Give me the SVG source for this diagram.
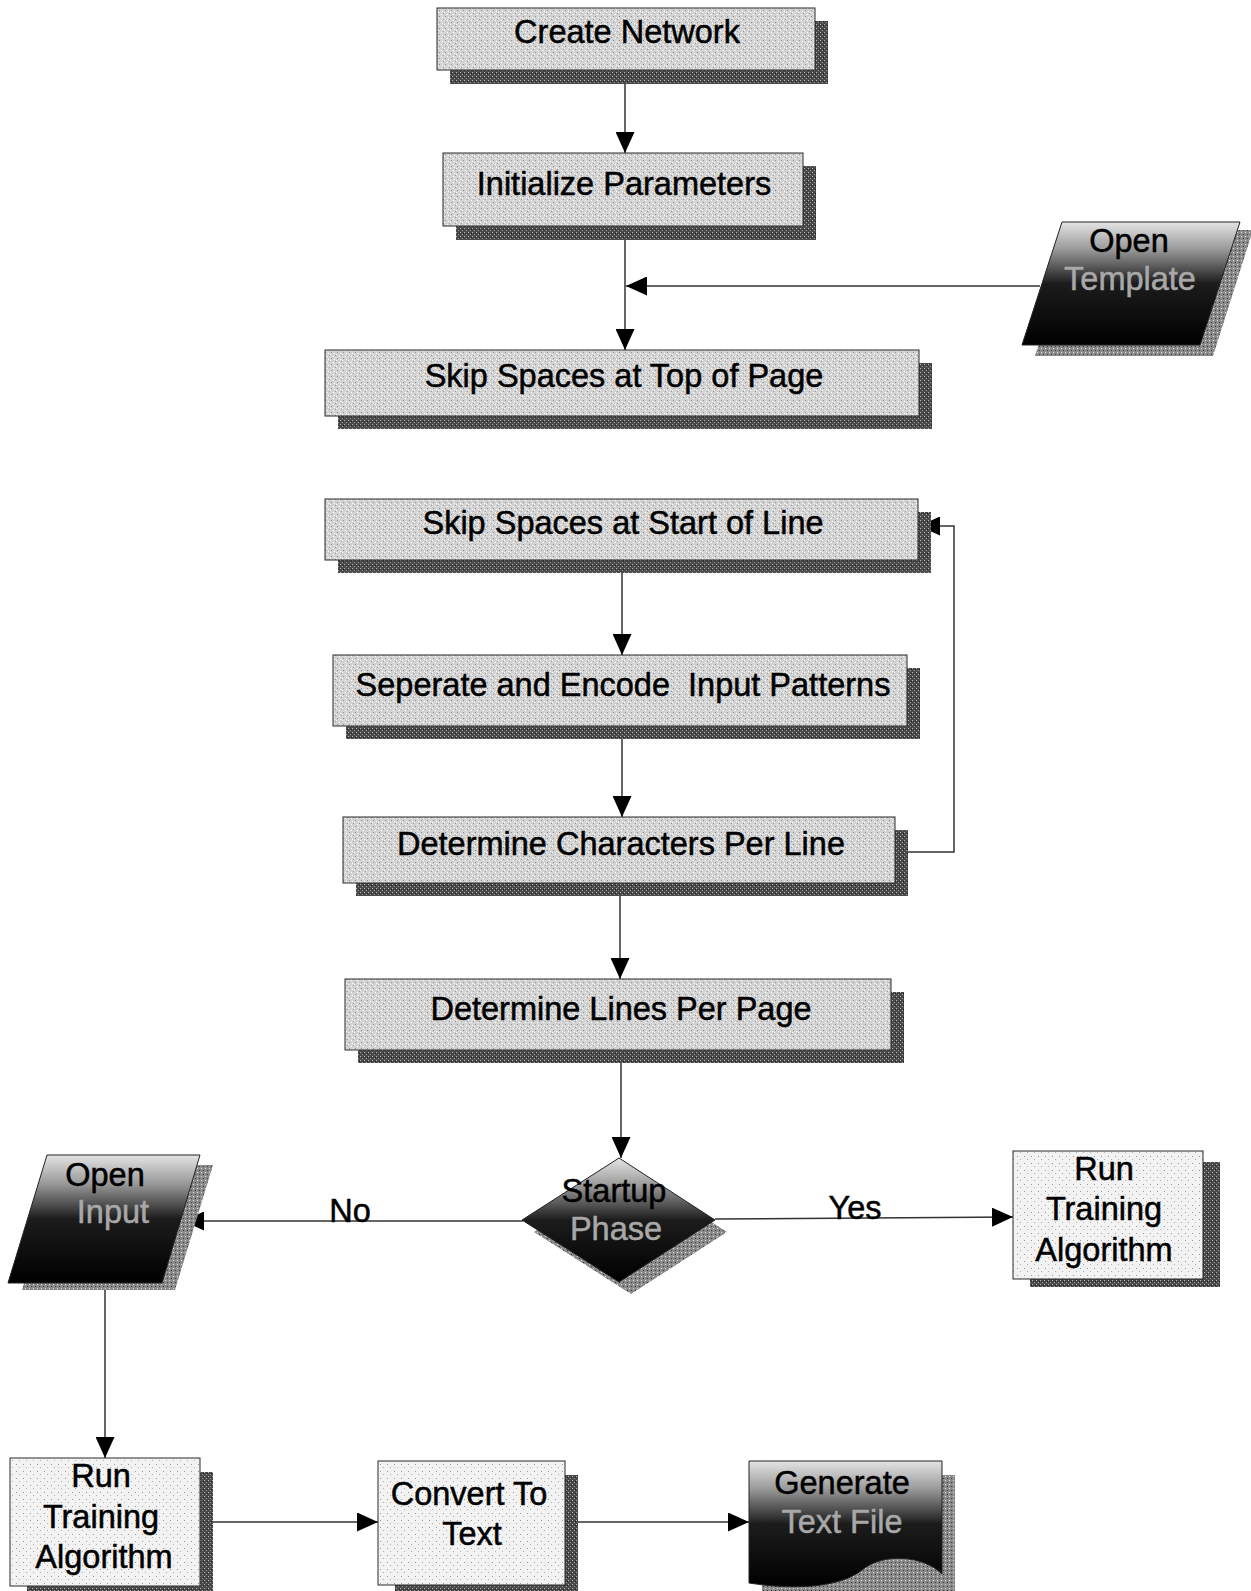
<svg xmlns="http://www.w3.org/2000/svg" width="1251" height="1591" viewBox="0 0 1251 1591">
  <defs>
    <style>
      .lbl { font-family: "Liberation Sans", Arial, sans-serif; font-size: 32.5px; text-anchor: middle; fill: #000; stroke: #000; stroke-width: 0.5; }
      .lite { fill: #a8a8a8; stroke: #a8a8a8; }
      .box { fill: url(#grain); stroke: #2a2a2a; stroke-width: 1; }
      .paper { fill: url(#paper); stroke: #2a2a2a; stroke-width: 1; }
      .shadow { fill: url(#shade); }
      .softshadow { fill: url(#midshade); }
      .wire { fill: none; stroke: #333; stroke-width: 1.5; }
    </style>
    <!-- grainy light-grey fill for process boxes -->
    <pattern id="grain" width="6" height="6" patternUnits="userSpaceOnUse">
      <rect width="6" height="6" fill="#d3d3d3"/>
      <rect x="0" y="0" width="1" height="1" fill="#ffffff"/>
      <rect x="3" y="2" width="1" height="1" fill="#ffffff"/>
      <rect x="1" y="4" width="1" height="1" fill="#8c8c8c"/>
      <rect x="4" y="5" width="1" height="1" fill="#ffffff"/>
      <rect x="5" y="1" width="1" height="1" fill="#9a9a9a"/>
    </pattern>
    <!-- nearly white fill for the training / convert boxes -->
    <pattern id="paper" width="7" height="7" patternUnits="userSpaceOnUse">
      <rect width="7" height="7" fill="#f2f2f2"/>
      <rect x="2" y="1" width="1" height="1" fill="#9a9a9a"/>
      <rect x="5" y="4" width="1" height="1" fill="#b0b0b0"/>
    </pattern>
    <!-- dark dotted drop shadow -->
    <pattern id="shade" width="4" height="4" patternUnits="userSpaceOnUse">
      <rect width="4" height="4" fill="#4a4a4a"/>
      <rect x="0" y="0" width="1" height="1" fill="#b5b5b5"/>
      <rect x="2" y="2" width="1" height="1" fill="#9a9a9a"/>
      <rect x="3" y="1" width="1" height="1" fill="#222"/>
    </pattern>
    <!-- lighter shadow used behind dark symbols -->
    <pattern id="midshade" width="4" height="4" patternUnits="userSpaceOnUse">
      <rect width="4" height="4" fill="#8a8a8a"/>
      <rect x="1" y="0" width="1" height="1" fill="#dcdcdc"/>
      <rect x="3" y="2" width="1" height="1" fill="#3a3a3a"/>
    </pattern>
    <linearGradient id="darkfade" x1="0" y1="0" x2="0" y2="1">
      <stop offset="0" stop-color="#e4e4e4"/>
      <stop offset="0.22" stop-color="#9a9a9a"/>
      <stop offset="0.5" stop-color="#1c1c1c"/>
      <stop offset="1" stop-color="#000"/>
    </linearGradient>
    <marker id="head" viewBox="0 0 21 19" refX="21" refY="9.5" markerWidth="21" markerHeight="19" markerUnits="userSpaceOnUse" orient="auto">
      <path d="M0,0 L21,9.5 L0,19 Z" fill="#000"/>
    </marker>
  </defs>

  <rect width="1251" height="1591" fill="#fff"/>

  <!-- connectors -->
  <g id="connectors">
    <line class="wire" x1="625" y1="84" x2="625" y2="153" marker-end="url(#head)"/>
    <line class="wire" x1="625" y1="240" x2="625" y2="350" marker-end="url(#head)"/>
    <line class="wire" x1="1040" y1="286" x2="626" y2="286" marker-end="url(#head)"/>
    <line class="wire" x1="622" y1="573" x2="622" y2="655" marker-end="url(#head)"/>
    <line class="wire" x1="622" y1="739" x2="622" y2="817" marker-end="url(#head)"/>
    <polyline class="wire" points="908,852 954,852 954,526 919,526" marker-end="url(#head)"/>
    <line class="wire" x1="620" y1="896" x2="620" y2="979" marker-end="url(#head)"/>
    <line class="wire" x1="621" y1="1063" x2="621" y2="1158" marker-end="url(#head)"/>
    <line class="wire" x1="523" y1="1221" x2="183" y2="1221" marker-end="url(#head)"/>
    <line class="wire" x1="715" y1="1219" x2="1013" y2="1217" marker-end="url(#head)"/>
    <line class="wire" x1="105" y1="1290" x2="105" y2="1458" marker-end="url(#head)"/>
    <line class="wire" x1="213" y1="1522" x2="378" y2="1522" marker-end="url(#head)"/>
    <line class="wire" x1="578" y1="1522" x2="749" y2="1522" marker-end="url(#head)"/>
  </g>

  <!-- branch labels -->
  <g id="branch-labels">
    <rect x="330" y="1200" width="40" height="20" fill="#fff"/>
    <text class="lbl" x="350" y="1222" font-size="30">No</text>
    <rect x="830" y="1196" width="48" height="20" fill="#fff"/>
    <text class="lbl" x="855" y="1219" font-size="30">Yes</text>
  </g>

  <g id="create-network">
    <rect class="shadow" x="450" y="21" width="378" height="63"/>
    <rect class="box" x="437" y="8" width="378" height="62"/>
    <text class="lbl" x="627" y="43">Create Network</text>
  </g>

  <g id="initialize-parameters">
    <rect class="shadow" x="456" y="166" width="360" height="74"/>
    <rect class="box" x="443" y="153" width="360" height="73"/>
    <text class="lbl" x="624" y="195">Initialize Parameters</text>
  </g>

  <g id="open-template">
    <polygon class="softshadow" points="1075,230 1253,230 1213,356 1035,356"/>
    <polygon points="1062,222 1240,222 1200,345 1022,345" fill="url(#darkfade)" stroke="#222" stroke-width="1"/>
    <text class="lbl" x="1129" y="252">Open</text>
    <text class="lbl lite" x="1130" y="290">Template</text>
  </g>

  <g id="skip-top">
    <rect class="shadow" x="338" y="363" width="594" height="66"/>
    <rect class="box" x="325" y="350" width="594" height="66"/>
    <text class="lbl" x="624" y="387">Skip Spaces at Top of Page</text>
  </g>

  <g id="skip-start">
    <rect class="shadow" x="338" y="512" width="593" height="61"/>
    <rect class="box" x="325" y="499" width="593" height="61"/>
    <text class="lbl" x="623" y="534">Skip Spaces at Start of Line</text>
  </g>

  <g id="separate-encode">
    <rect class="shadow" x="346" y="668" width="574" height="71"/>
    <rect class="box" x="333" y="655" width="574" height="71"/>
    <text class="lbl" x="623" y="696" xml:space="preserve">Seperate and Encode  Input Patterns</text>
  </g>

  <g id="chars-per-line">
    <rect class="shadow" x="356" y="830" width="552" height="66"/>
    <rect class="box" x="343" y="817" width="552" height="66"/>
    <text class="lbl" x="621" y="855">Determine Characters Per Line</text>
  </g>

  <g id="lines-per-page">
    <rect class="shadow" x="358" y="992" width="546" height="71"/>
    <rect class="box" x="345" y="979" width="546" height="71"/>
    <text class="lbl" x="621" y="1020">Determine Lines Per Page</text>
  </g>

  <g id="startup-phase">
    <polygon class="softshadow" points="631,1170 727,1232 631,1294 534,1232"/>
    <polygon points="619,1158 715,1220 619,1282 522,1220" fill="url(#darkfade)" stroke="#222" stroke-width="1"/>
    <text class="lbl" x="614" y="1202">Startup</text>
    <text class="lbl lite" x="616" y="1240">Phase</text>
  </g>

  <g id="open-input">
    <polygon class="softshadow" points="60,1165 213,1165 175,1290 22,1290"/>
    <polygon points="47,1155 200,1155 162,1283 8,1283" fill="url(#darkfade)" stroke="#222" stroke-width="1"/>
    <text class="lbl" x="105" y="1186">Open</text>
    <text class="lbl lite" x="113" y="1223">Input</text>
  </g>

  <g id="train-right">
    <rect class="shadow" x="1030" y="1162" width="190" height="125"/>
    <rect class="paper" x="1013" y="1151" width="190" height="128"/>
    <text class="lbl" x="1104" y="1180">Run</text>
    <text class="lbl" x="1104" y="1220">Training</text>
    <text class="lbl" x="1104" y="1261">Algorithm</text>
  </g>

  <g id="train-left">
    <rect class="shadow" x="27" y="1472" width="186" height="119"/>
    <rect class="paper" x="10" y="1458" width="190" height="128"/>
    <text class="lbl" x="101" y="1487">Run</text>
    <text class="lbl" x="101" y="1528">Training</text>
    <text class="lbl" x="104" y="1568">Algorithm</text>
  </g>

  <g id="convert-text">
    <rect class="shadow" x="395" y="1475" width="183" height="116"/>
    <rect class="paper" x="378" y="1461" width="187" height="124"/>
    <text class="lbl" x="469" y="1505">Convert To</text>
    <text class="lbl" x="472" y="1545">Text</text>
  </g>

  <g id="generate-file">
    <path class="softshadow" d="M762,1475 H955 V1591 H762 Z"/>
    <path d="M749,1461 H942 V1574 C924,1556 884,1552 862,1570 C842,1586 800,1591 749,1583 Z" fill="url(#darkfade)" stroke="#222" stroke-width="1"/>
    <text class="lbl" x="842" y="1494">Generate</text>
    <text class="lbl lite" x="842" y="1533">Text File</text>
  </g>
</svg>
